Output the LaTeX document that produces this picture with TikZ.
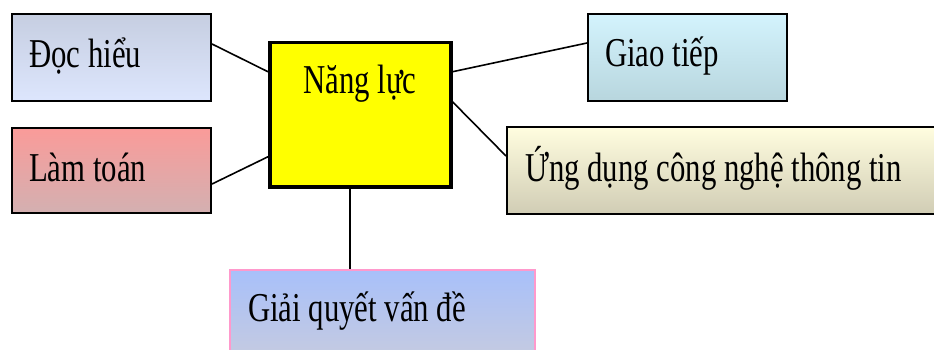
\documentclass[tikz,border=0pt]{standalone}
\usepackage{fontspec}
\setmainfont[FakeStretch=0.75]{Liberation Serif}
\definecolor{docT}{HTML}{C6CEE1}
\definecolor{docB}{HTML}{DDE6FD}
\definecolor{lamT}{HTML}{FA9B99}
\definecolor{lamB}{HTML}{D3B0B1}
\definecolor{giaoT}{HTML}{D3F3FD}
\definecolor{giaoB}{HTML}{B8D6DE}
\definecolor{ungT}{HTML}{FFFDDF}
\definecolor{ungB}{HTML}{D1CDB5}
\definecolor{giaiT}{HTML}{A8C0FA}
\definecolor{giaiB}{HTML}{C9CCDD}
\definecolor{pinkB}{HTML}{FF99CC}
\definecolor{ylw}{RGB}{255,255,0}
\begin{document}
\begin{tikzpicture}[x=1pt,y=-1pt,
  box/.style={draw=black, line width=2pt, inner sep=0pt, anchor=north west},
  lbl/.style={anchor=base west, inner sep=0pt, font=\fontsize{41}{48}\selectfont},
  conn/.style={line width=1.6pt, black}]
\useasboundingbox (0,0) rectangle (934,350);
\clip (0,0) rectangle (934,350);
% boxes
\node[box, minimum width=199pt, minimum height=87pt, top color=docT, bottom color=docB] (doc) at (11,13) {};
\node[box, minimum width=199pt, minimum height=85pt, top color=lamT, bottom color=lamB] (lam) at (11,127) {};
\node[box, line width=3.5pt, minimum width=181pt, minimum height=144pt, fill=ylw] (nl) at (268,41) {};
\node[box, minimum width=199pt, minimum height=87pt, top color=giaoT, bottom color=giaoB] (giao) at (587,13) {};
\node[box, minimum width=440pt, minimum height=86pt, top color=ungT, bottom color=ungB] (ung) at (506,126.5) {};
\node[box, draw=pinkB, minimum width=305pt, minimum height=100pt, top color=giaiT, bottom color=giaiB] (giai) at (229,268.5) {};
% labels
\node[lbl] (tdoc) at (29,67.7) {Đọc hiểu};
\node[lbl] (tlam) at (29,181) {Làm toán};
\node[lbl, anchor=base] (tnl) at (360,94) {Năng lực};
\node[lbl] (tgiao) at (605,66.7) {Giao tiếp};
\node[lbl] (tung) at (525,181.7) {Ứng dụng công nghệ thông tin};
\node[lbl] (tgiai) at (248,321.7) {Giải quyết vấn đề};
% connectors
\coordinate (nlb) at ([xshift=-10.5pt]nl.south);
\draw[conn] ([yshift=13.5pt]doc.east) -- ([yshift=43pt]nl.west);
\draw[conn] ([yshift=-13.5pt]lam.east) -- ([yshift=-42pt]nl.west);
\draw[conn] ([yshift=43pt]nl.east) -- ([yshift=14.5pt]giao.west);
\draw[conn] ([yshift=13pt]nl.east) -- ([yshift=14.5pt]ung.west);
\draw[conn] (nlb) -- (nlb |- giai.north);
\end{tikzpicture}
\end{document}
